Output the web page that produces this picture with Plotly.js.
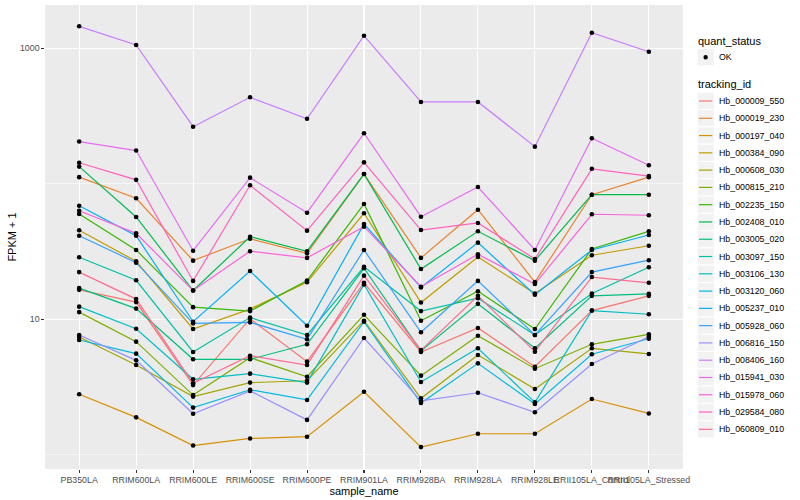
<!DOCTYPE html>
<html>
<head>
<meta charset="utf-8">
<script src="https://cdn.plot.ly/plotly-3.0.1.min.js"></script>
<style>
  html, body { margin: 0; padding: 0; background: #ffffff; }
  #chart { width: 800px; height: 500px; }
</style>
</head>
<body>
<div id="chart"></div>
<script>
// ---------- data ----------
const sample_names = ["PB350LA", "RRIM600LA", "RRIM600LE", "RRIM600SE", "RRIM600PE", "RRIM901LA",
  "RRIM928BA", "RRIM928LA", "RRIM928LE", "RRII105LA_Control", "RRII105LA_Stressed"];

const tracking_ids = ["Hb_000009_550", "Hb_000019_230", "Hb_000197_040", "Hb_000384_090", "Hb_000608_030",
  "Hb_000815_210", "Hb_002235_150", "Hb_002408_010", "Hb_003005_020", "Hb_003097_150", "Hb_003106_130",
  "Hb_003120_060", "Hb_005237_010", "Hb_005928_060", "Hb_006816_150", "Hb_008406_160", "Hb_015941_030",
  "Hb_015978_060", "Hb_029584_080", "Hb_060809_010"];

const series_colors = ["#F8766D", "#EA8331", "#D89000", "#C09B00", "#A3A500", "#7CAE00", "#39B600", "#00BB4E",
  "#00BF7D", "#00C1A3", "#00BFC4", "#00BAE0", "#00B0F6", "#35A2FF", "#9590FF", "#C77CFF", "#E76BF3",
  "#FA62DB", "#FF62BC", "#FF6C91"];

// FPKM + 1, one value per sample_name
const Hb_000009_550 = [16.5, 13.4, 3.27, 10.1, 4.87, 18.6, 5.74, 8.63, 4.47, 11.6, 14.9];
const Hb_000019_230 = [112, 78.2, 27.1, 39.3, 30.7, 118, 28.4, 64.4, 18.8, 83.1, 112];
const Hb_000197_040 = [2.80, 1.89, 1.17, 1.32, 1.36, 2.92, 1.14, 1.43, 1.43, 2.58, 2.02];
const Hb_000384_090 = [45.4, 26.8, 8.48, 11.9, 18.8, 60.6, 13.3, 28.8, 15.5, 29.7, 34.9];
const Hb_000608_030 = [7.40, 4.60, 2.69, 3.41, 3.52, 9.77, 2.61, 5.45, 3.06, 6.11, 5.55];
const Hb_000815_210 = [11.3, 6.84, 2.76, 5.21, 3.77, 10.8, 3.84, 7.57, 4.32, 6.54, 7.75];
const Hb_002235_150 = [59.9, 32.5, 12.3, 11.5, 19.3, 71.0, 9.77, 16.1, 8.48, 33.0, 44.6];
const Hb_002408_010 = [134, 56.9, 16.3, 40.7, 31.8, 118, 23.5, 44.6, 27.1, 83.1, 83.1];
const Hb_003005_020 = [17.0, 12.0, 5.07, 5.07, 6.54, 23.8, 5.84, 13.0, 6.11, 14.9, 15.4];
const Hb_003097_150 = [28.7, 19.4, 5.74, 10.3, 7.66, 24.4, 11.5, 14.3, 7.66, 15.5, 24.2];
const Hb_003106_130 = [12.4, 8.52, 3.61, 3.97, 3.41, 18.1, 3.45, 6.11, 2.44, 11.6, 10.9];
const Hb_003120_060 = [7.04, 5.58, 2.23, 3.02, 2.54, 9.60, 2.41, 4.73, 2.37, 5.52, 7.19];
const Hb_005237_010 = [68.9, 41.4, 9.60, 22.7, 8.97, 50.5, 17.2, 36.8, 15.2, 32.5, 41.9];
const Hb_005928_060 = [41.4, 26.2, 9.34, 9.50, 7.12, 32.5, 8.02, 19.2, 7.66, 22.3, 27.3];
const Hb_006816_150 = [7.66, 4.98, 2.01, 2.96, 1.81, 7.28, 2.50, 2.87, 2.06, 4.68, 7.44];
const Hb_008406_160 = [1453, 1058, 264, 435, 302, 1239, 402, 402, 188, 1303, 944];
const Hb_015941_030 = [205, 176, 32.1, 111, 61.2, 236, 57.2, 94.7, 32.5, 217, 137];
const Hb_015978_060 = [63.3, 43.1, 16.3, 31.8, 28.4, 48.3, 17.4, 30.2, 18.2, 59.6, 58.6];
const Hb_029584_080 = [143, 107, 19.2, 97.5, 45.1, 144, 45.6, 51.4, 27.9, 129, 114];
const Hb_060809_010 = [22.3, 14.1, 3.37, 5.39, 4.60, 21.0, 5.93, 14.9, 5.77, 20.5, 18.6];

const series_values = [Hb_000009_550, Hb_000019_230, Hb_000197_040, Hb_000384_090, Hb_000608_030,
  Hb_000815_210, Hb_002235_150, Hb_002408_010, Hb_003005_020, Hb_003097_150, Hb_003106_130,
  Hb_003120_060, Hb_005237_010, Hb_005928_060, Hb_006816_150, Hb_008406_160, Hb_015941_030,
  Hb_015978_060, Hb_029584_080, Hb_060809_010];

const y_tick_values = [10, 1000];
const y_tick_labels = ["10", "1000"];
const y_minor_values = [1, 100];
const quant_status_levels = ["OK"];

// ---------- geometry (pixels) ----------
const W = 800, H = 500;
const M = { l: 45, r: 117, t: 5, b: 31 };
const PW = W - M.l - M.r, PH = H - M.t - M.b;
const px = x => (x - M.l) / PW;          // pixel x -> paper x
const py = y => 1 - (y - M.t) / PH;      // pixel y -> paper y

const FONT = '"Liberation Sans", Arial, Helvetica, sans-serif';

// ---------- traces ----------
const traces = [];
series_values.forEach((vals, i) => {
  traces.push({
    type: 'scatter', mode: 'lines', x: sample_names, y: vals,
    name: tracking_ids[i], line: { color: series_colors[i], width: 1.2 },
    showlegend: false, hoverinfo: 'skip'
  });
});
series_values.forEach((vals, i) => {
  traces.push({
    type: 'scatter', mode: 'markers', x: sample_names, y: vals,
    name: quant_status_levels[0], marker: { color: '#000000', size: 4.6 },
    showlegend: false, hoverinfo: 'skip'
  });
});

// ---------- manual ggplot-style legend ----------
const shapes = [];
const annotations = [];
const keyX0 = 697, keyX1 = 714.3, keyH = 17.28;
const textX = 717;

annotations.push({ xref: 'paper', yref: 'paper', x: px(696), y: py(40.7), xanchor: 'left', yanchor: 'middle',
  text: 'quant_status', showarrow: false, font: { family: FONT, size: 11, color: '#000000' } });
// OK key
const okC = 57.2;
shapes.push({ type: 'rect', xref: 'paper', yref: 'paper', x0: px(keyX0), x1: px(keyX1),
  y0: py(okC - keyH / 2), y1: py(okC + keyH / 2), fillcolor: '#F2F2F2', line: { color: '#FFFFFF', width: 1 } });
shapes.push({ type: 'circle', xref: 'paper', yref: 'paper', x0: px(705.65 - 2.2), x1: px(705.65 + 2.2),
  y0: py(okC - 2.2), y1: py(okC + 2.2), fillcolor: '#000000', line: { width: 0 } });
annotations.push({ xref: 'paper', yref: 'paper', x: px(textX), y: py(okC), xanchor: 'left', yanchor: 'middle',
  text: quant_status_levels[0], showarrow: false, font: { family: FONT, size: 8.8, color: '#000000' } });

annotations.push({ xref: 'paper', yref: 'paper', x: px(696), y: py(84.3), xanchor: 'left', yanchor: 'middle',
  text: 'tracking_id', showarrow: false, font: { family: FONT, size: 11, color: '#000000' } });

tracking_ids.forEach((id, i) => {
  const c = 101 + i * keyH;
  shapes.push({ type: 'rect', xref: 'paper', yref: 'paper', x0: px(keyX0), x1: px(keyX1),
    y0: py(c - keyH / 2), y1: py(c + keyH / 2), fillcolor: '#F2F2F2', line: { color: '#FFFFFF', width: 1 } });
  shapes.push({ type: 'line', xref: 'paper', yref: 'paper', x0: px(699), x1: px(712.3),
    y0: py(c), y1: py(c), line: { color: series_colors[i], width: 1.2 } });
  annotations.push({ xref: 'paper', yref: 'paper', x: px(textX), y: py(c), xanchor: 'left', yanchor: 'middle',
    text: id, showarrow: false, font: { family: FONT, size: 8.8, color: '#000000' } });
});

// ---------- layout ----------
const yTop = 3.3565 - 0.00738 * 5;
const yBot = 3.3565 - 0.00738 * 469;

const layout = {
  width: W, height: H,
  margin: M,
  paper_bgcolor: '#FFFFFF',
  plot_bgcolor: '#EBEBEB',
  showlegend: false,
  hovermode: false,
  font: { family: FONT, size: 8.8, color: '#4D4D4D' },
  xaxis: {
    type: 'category', categoryorder: 'array', categoryarray: sample_names,
    range: [-0.6, sample_names.length - 1 + 0.6],
    showgrid: true, gridcolor: '#FFFFFF', gridwidth: 1.07,
    zeroline: false, showline: false,
    ticks: 'outside', ticklen: 2.7, tickwidth: 1.07, tickcolor: '#333333',
    tickangle: 0, automargin: false,
    tickfont: { family: FONT, size: 8.8, color: '#4D4D4D' },
    title: { text: 'sample_name', font: { family: FONT, size: 11, color: '#000000' }, standoff: 2 }
  },
  yaxis: {
    type: 'log', range: [yBot, yTop],
    tickmode: 'array', tickvals: y_tick_values, ticktext: y_tick_labels,
    showgrid: true, gridcolor: '#FFFFFF', gridwidth: 1.07,
    minor: { tickmode: 'array', tickvals: y_minor_values, showgrid: true, gridcolor: '#FFFFFF', gridwidth: 0.53, ticks: '' },
    zeroline: false, showline: false,
    ticks: 'outside', ticklen: 2.7, tickwidth: 1.07, tickcolor: '#333333',
    automargin: false,
    tickfont: { family: FONT, size: 8.8, color: '#4D4D4D' },
    title: { text: 'FPKM + 1', font: { family: FONT, size: 11, color: '#000000' }, standoff: 1 }
  },
  shapes: shapes,
  annotations: annotations
};

Plotly.newPlot('chart', traces, layout, { staticPlot: true, displayModeBar: false });
</script>
</body>
</html>
